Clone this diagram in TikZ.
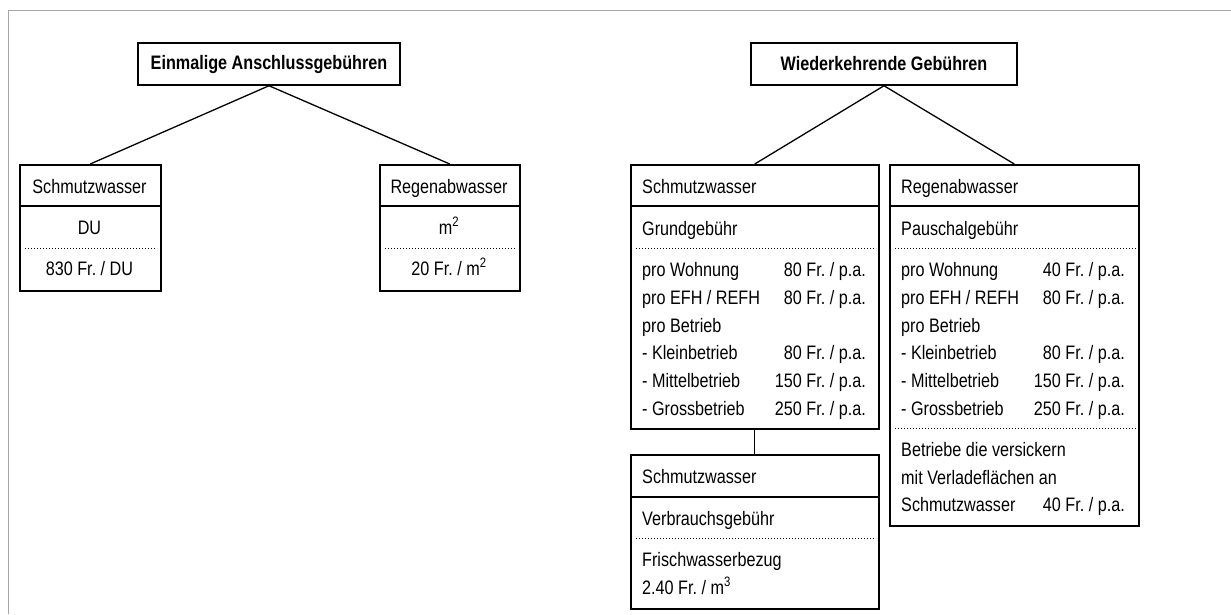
\documentclass[tikz,border=0pt]{standalone}
\usepackage{fontspec}
\setmainfont{Liberation Sans}[FakeStretch=0.83]
\usetikzlibrary{positioning}
\frenchspacing

\newcommand{\boxfont}{\fontsize{19.5}{23}\selectfont}

\begin{document}
\begin{tikzpicture}[
    x=1pt,y=-1pt,font=\boxfont,
    titleBox/.style={draw,line width=1.5pt,font=\boxfont\bfseries,minimum height=42pt,inner sep=0pt},
    feeBox/.style={draw,line width=1.5pt,anchor=north west,inner sep=0pt},
    lt/.style={anchor=base west,inner sep=0pt},
    rt/.style={anchor=base east,inner sep=0pt},
    ct/.style={anchor=base,inner sep=0pt},
    link/.style={line width=1.3pt},
    solidRule/.style={line width=1.5pt},
    dotRule/.style={line width=1pt,dash pattern=on 1pt off 2pt}
  ]
    \useasboundingbox (0,0) rectangle (1231,614);
    \draw[black!35,line width=1pt] (8.5,614) |- (1231,10.5);

    % titles
    \node[titleBox,minimum width=262pt] (einmalig) at (269,64) {Einmalige Anschlussgebühren};
    \node[titleBox,minimum width=266pt] (wiederkehrend) at (884,64) {Wiederkehrende Gebühren};

    % einmalige Gebuehren
    \node[feeBox,minimum width=141pt,minimum height=126pt] (eSchmutz) at (19,164) {};
    \node[ct] (eSchmutzHead) at (89.5,193) {Schmutzwasser};
    \node[ct] (eSchmutzUnit) at (89.5,234) {DU};
    \node[ct] (eSchmutzFee) at (89.5,275) {830 Fr. / DU};
    \draw[solidRule] (eSchmutz.west |- 0,206) -- (eSchmutz.east |- 0,206);
    \draw[dotRule] (25,248) -- (157,248);

    \node[feeBox,minimum width=140pt,minimum height=126pt] (eRegen) at (379,164) {};
    \node[ct] (eRegenHead) at (449,193) {Regenabwasser};
    \node[ct] (eRegenUnit) at (449,234) {m\textsuperscript{2}};
    \node[ct] (eRegenFee) at (449,275) {20 Fr. / m\textsuperscript{2}};
    \draw[solidRule] (eRegen.west |- 0,206) -- (eRegen.east |- 0,206);
    \draw[dotRule] (385,248) -- (516,248);

    \draw[link] (einmalig.south) -- (eSchmutz.north);
    \draw[link] (einmalig.south) -- (eRegen.north);

    % wiederkehrende Gebuehren: Schmutzwasser
    \node[feeBox,minimum width=248pt,minimum height=264pt] (wSchmutz) at (630,164) {};
    \node[lt] (wSchmutzHead) at (642,193) {Schmutzwasser};
    \node[lt] (wSchmutzGrund) at (642,235) {Grundgebühr};
    \node[lt] (wsWohnung) at (642,276) {pro Wohnung};
    \node[rt] (wsWohnungFee) at (866,276) {80 Fr. / p.a.};
    \node[lt] (wsEfh) at (642,304) {pro EFH / REFH};
    \node[rt] (wsEfhFee) at (866,304) {80 Fr. / p.a.};
    \node[lt] (wsBetrieb) at (642,332) {pro Betrieb};
    \node[lt] (wsKlein) at (642,359.5) {- Kleinbetrieb};
    \node[rt] (wsKleinFee) at (866,359.5) {80 Fr. / p.a.};
    \node[lt] (wsMittel) at (642,387.5) {- Mittelbetrieb};
    \node[rt] (wsMittelFee) at (866,387.5) {150 Fr. / p.a.};
    \node[lt] (wsGross) at (642,415) {- Grossbetrieb};
    \node[rt] (wsGrossFee) at (866,415) {250 Fr. / p.a.};
    \draw[solidRule] (wSchmutz.west |- 0,206) -- (wSchmutz.east |- 0,206);
    \draw[dotRule] (636,248) -- (876,248);

    % wiederkehrende Gebuehren: Regenabwasser
    \node[feeBox,minimum width=249pt,minimum height=361pt] (wRegen) at (889,164) {};
    \node[lt] (wRegenHead) at (901,193) {Regenabwasser};
    \node[lt] (wRegenPausch) at (901,235) {Pauschalgebühr};
    \node[lt] (wrWohnung) at (901,276) {pro Wohnung};
    \node[rt] (wrWohnungFee) at (1125,276) {40 Fr. / p.a.};
    \node[lt] (wrEfh) at (901,304) {pro EFH / REFH};
    \node[rt] (wrEfhFee) at (1125,304) {80 Fr. / p.a.};
    \node[lt] (wrBetrieb) at (901,332) {pro Betrieb};
    \node[lt] (wrKlein) at (901,359.5) {- Kleinbetrieb};
    \node[rt] (wrKleinFee) at (1125,359.5) {80 Fr. / p.a.};
    \node[lt] (wrMittel) at (901,387.5) {- Mittelbetrieb};
    \node[rt] (wrMittelFee) at (1125,387.5) {150 Fr. / p.a.};
    \node[lt] (wrGross) at (901,415) {- Grossbetrieb};
    \node[rt] (wrGrossFee) at (1125,415) {250 Fr. / p.a.};
    \node[lt] (wrVersick) at (901,456) {Betriebe die versickern};
    \node[lt] (wrVerlade) at (901,484) {mit Verladeflächen an};
    \node[lt] (wrSchmutz) at (901,511) {Schmutzwasser};
    \node[rt] (wrSchmutzFee) at (1125,511) {40 Fr. / p.a.};
    \draw[solidRule] (wRegen.west |- 0,206) -- (wRegen.east |- 0,206);
    \draw[dotRule] (895,248) -- (1136,248);
    \draw[dotRule] (895,428) -- (1136,428);

    \draw[link] (wiederkehrend.south) -- (wSchmutz.north);
    \draw[link] (wiederkehrend.south) -- (wRegen.north);

    % Verbrauchsgebuehr
    \node[feeBox,minimum width=248pt,minimum height=154pt] (vSchmutz) at (630,454) {};
    \node[lt] (vSchmutzHead) at (642,483) {Schmutzwasser};
    \node[lt] (vVerbrauch) at (642,525) {Verbrauchsgebühr};
    \node[lt] (vFrisch) at (642,566) {Frischwasserbezug};
    \node[lt] (vFee) at (642,594) {2.40 Fr. / m\textsuperscript{3}};
    \draw[solidRule] (vSchmutz.west |- 0,497) -- (vSchmutz.east |- 0,497);
    \draw[dotRule] (636,538) -- (876,538);

    \draw[link] (wSchmutz.south) -- (vSchmutz.north);
  \end{tikzpicture}
\end{document}
